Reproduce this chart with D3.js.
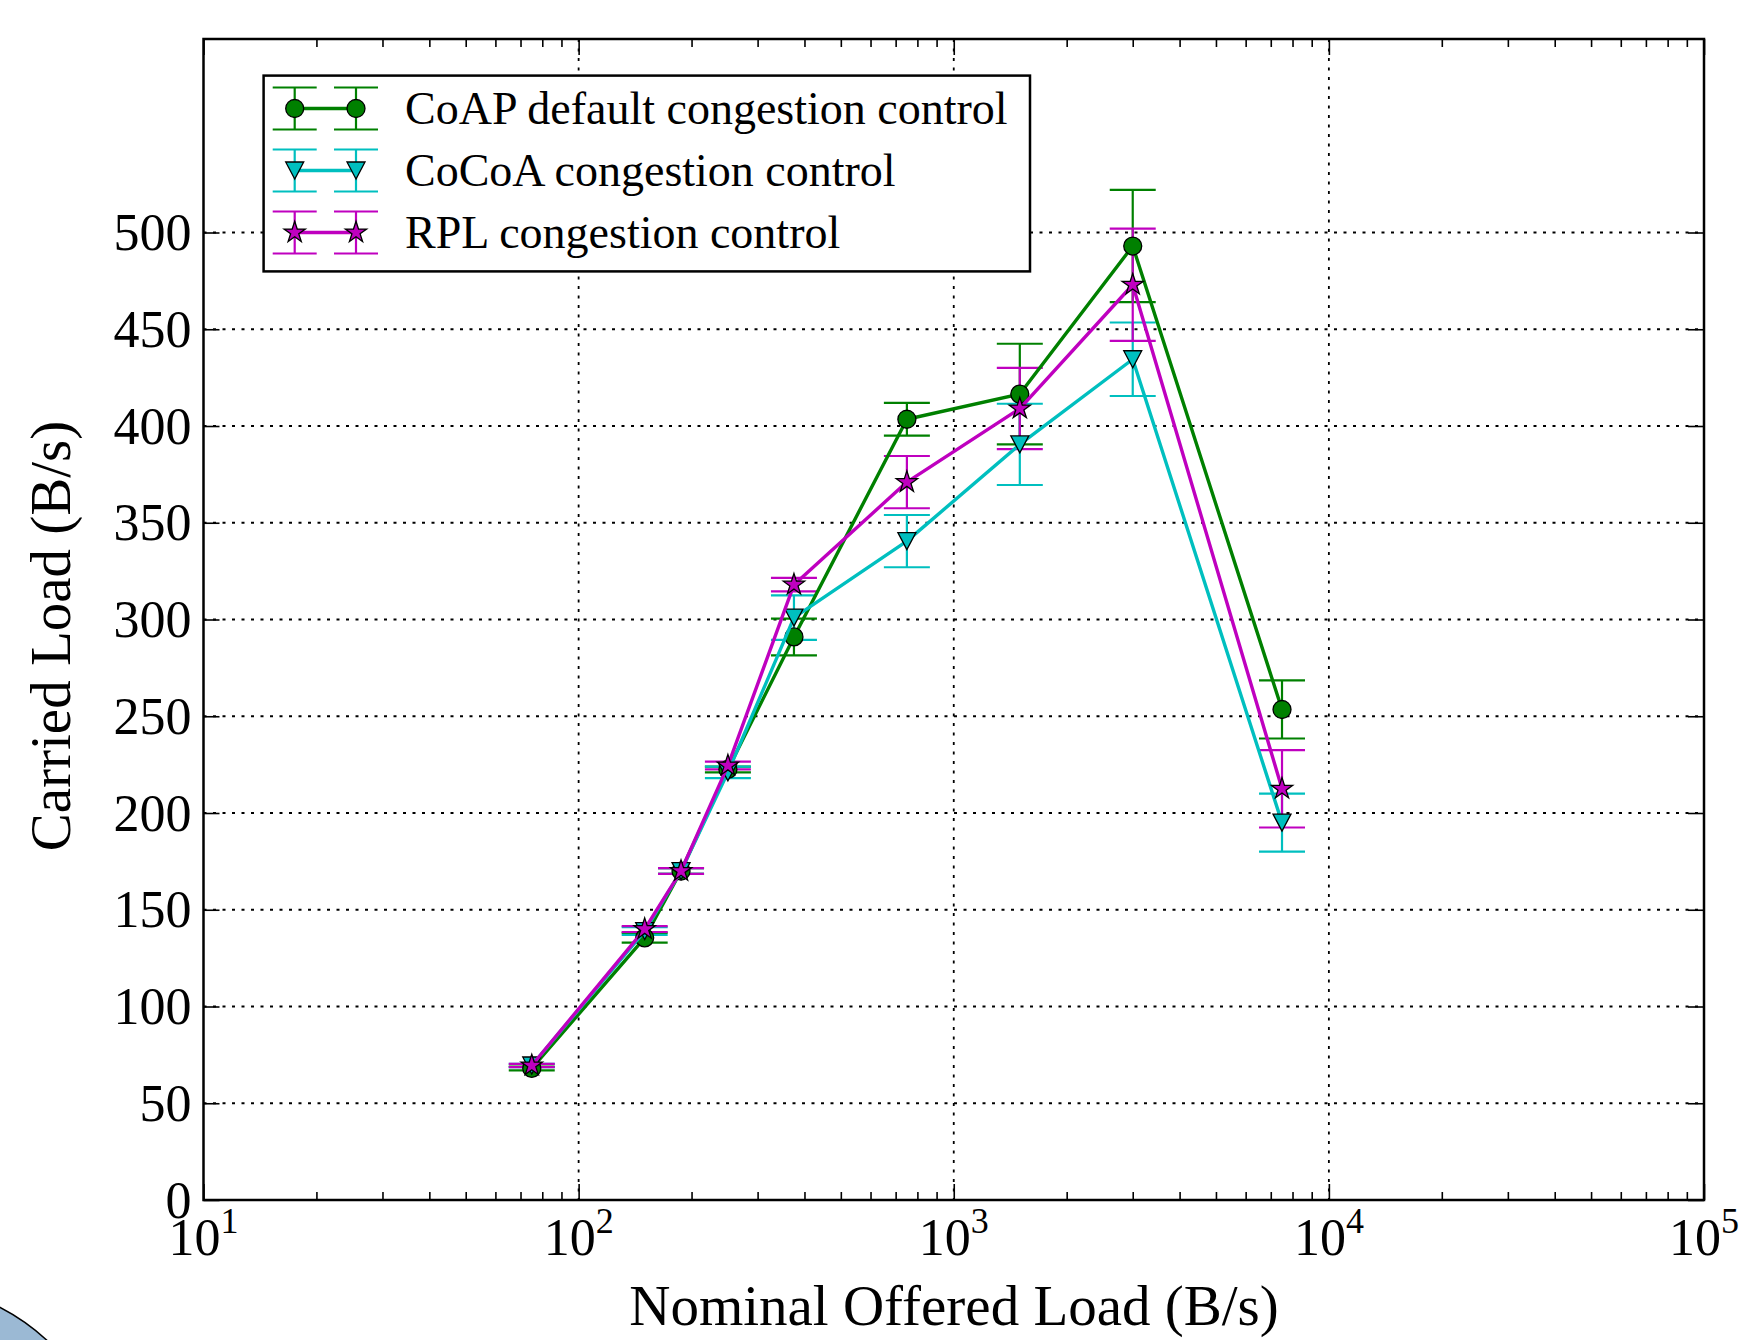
<!DOCTYPE html>
<html><head><meta charset="utf-8">
<script src="https://cdn.jsdelivr.net/npm/d3@7"></script>
<style>body{margin:0;background:#fff} svg{display:block}</style>
</head><body>
<svg id="chart" width="1744" height="1340"></svg>
<script>
// ---- data ----
const xValues = [75, 150, 187.5, 250, 375, 750, 1500, 3000, 7500];
const seriesNames = ["CoAP default congestion control", "CoCoA congestion control", "RPL congestion control"];
const coapLoad  = [68, 135.5, 170, 222.5, 291, 403.5, 416.5, 493, 253.5];
const coapErr   = [1, 2.5, 1.5, 1.5, 9.5, 8.5, 26, 29, 15];
const cocoaLoad = [69.5, 139, 170, 221, 301, 340.5, 390.5, 434.5, 195];
const cocoaErr  = [0.8, 2, 1.5, 3, 11.5, 13.5, 21, 19, 15];
const rplLoad   = [69.5, 140, 170, 224.5, 318, 371, 409, 473, 212.5];
const rplErr    = [0.8, 1.5, 1.5, 2, 3.5, 13.5, 21, 29, 20];
const yTicks = [0, 50, 100, 150, 200, 250, 300, 350, 400, 450, 500];
const xTicks = [10, 100, 1000, 10000, 100000];
const xTickExponents = ["1", "2", "3", "4", "5"];
const xLabel = "Nominal Offered Load (B/s)";
const yLabel = "Carried Load (B/s)";

// ---- styles ----
const colors = ["#008000", "#00bfbf", "#bf00bf"];
const markers = ["circle", "triangle", "star"];
const FONT = "'Liberation Serif', 'DejaVu Serif', serif";

const L = 203.5, R = 1704, T = 39, B = 1200;
const svg = d3.select("#chart").attr("font-family", FONT);

// corner artifact
svg.append("circle").attr("cx", -100).attr("cy", 1500).attr("r", 217)
  .attr("fill", "#9bb9d4").attr("stroke", "#000").attr("stroke-width", 1.5);

const x = d3.scaleLog().domain([10, 100000]).range([L, R]);
const y = d3.scaleLinear().domain([0, 600]).range([B, T]);

// grid
const grid = svg.append("g").attr("stroke", "#000").attr("stroke-width", 1.8).attr("stroke-dasharray", "3,6.5");
grid.selectAll("line.gx").data(xTicks.slice(1, -1)).join("line")
  .attr("x1", d => x(d)).attr("x2", d => x(d)).attr("y1", T).attr("y2", B);
grid.selectAll("line.gy").data(yTicks.slice(1)).join("line")
  .attr("x1", L).attr("x2", R).attr("y1", d => y(d)).attr("y2", d => y(d));

// axes ticks (inward)
const minorX = x.ticks().filter(v => xTicks.indexOf(v) < 0);
function styleAxis(g) { g.select(".domain").remove(); g.selectAll("line").attr("stroke", "#000").attr("stroke-width", 1.6); g.selectAll("text").remove(); }
svg.append("g").attr("transform", `translate(0,${B})`).call(d3.axisBottom(x).tickValues(xTicks).tickSize(-16)).call(styleAxis);
svg.append("g").attr("transform", `translate(0,${B})`).call(d3.axisBottom(x).tickValues(minorX).tickSize(-8)).call(styleAxis);
svg.append("g").attr("transform", `translate(0,${T})`).call(d3.axisTop(x).tickValues(xTicks).tickSize(-16)).call(styleAxis);
svg.append("g").attr("transform", `translate(0,${T})`).call(d3.axisTop(x).tickValues(minorX).tickSize(-8)).call(styleAxis);
svg.append("g").attr("transform", `translate(${L},0)`).call(d3.axisLeft(y).tickValues(yTicks).tickSize(-16)).call(styleAxis);
svg.append("g").attr("transform", `translate(${R},0)`).call(d3.axisRight(y).tickValues(yTicks).tickSize(-16)).call(styleAxis);

// tick labels
svg.append("g").selectAll("text").data(yTicks).join("text")
  .attr("x", L - 12).attr("y", d => y(d)).attr("dy", "0.34em")
  .attr("text-anchor", "end").attr("font-size", 52).text(d => d);
const xl = svg.append("g").selectAll("text").data(xTicks).join("text")
  .attr("x", d => x(d)).attr("y", 1255).attr("text-anchor", "middle").attr("font-size", 52);
xl.append("tspan").text("10");
xl.append("tspan").attr("dy", -22).attr("font-size", 36).text((d, i) => xTickExponents[i]);

// axis labels
svg.append("text").attr("x", 954).attr("y", 1325).attr("text-anchor", "middle").attr("font-size", 57).text(xLabel);
svg.append("text").attr("transform", "translate(70,636) rotate(-90)").attr("text-anchor", "middle").attr("font-size", 57).text(yLabel);

// markers
function starPath(Ro) {
  const ri = Ro * 0.381966; let p = [];
  for (let k = 0; k < 10; k++) { const a = -Math.PI / 2 + k * Math.PI / 5; const r = k % 2 ? ri : Ro; p.push([r * Math.cos(a), r * Math.sin(a)]); }
  return "M" + p.map(q => q[0].toFixed(2) + "," + q[1].toFixed(2)).join("L") + "Z";
}
const CR = 9;
const markerPath = {
  circle: `M${CR},0A${CR},${CR} 0 1,1 ${-CR},0A${CR},${CR} 0 1,1 ${CR},0Z`,
  triangle: "M0,8.5L-9,-8.5L9,-8.5Z",
  star: starPath(11.2)
};

const series = [
  { name: seriesNames[0], vals: coapLoad, errs: coapErr },
  { name: seriesNames[1], vals: cocoaLoad, errs: cocoaErr },
  { name: seriesNames[2], vals: rplLoad, errs: rplErr }
];
const CAP = 23;
const plot = svg.append("g");
// error bars
series.forEach((s, si) => {
  const g = plot.append("g").attr("stroke", colors[si]).attr("stroke-width", 2.2);
  const pts = xValues.map((xv, i) => ({ x: xv, v: s.vals[i], e: s.errs[i] }));
  g.selectAll("line.v").data(pts).join("line")
    .attr("x1", d => x(d.x)).attr("x2", d => x(d.x)).attr("y1", d => y(d.v - d.e)).attr("y2", d => y(d.v + d.e));
  g.selectAll("line.c1").data(pts).join("line").attr("class", "c1")
    .attr("x1", d => x(d.x) - CAP).attr("x2", d => x(d.x) + CAP).attr("y1", d => y(d.v + d.e)).attr("y2", d => y(d.v + d.e));
  g.selectAll("line.c2").data(pts).join("line").attr("class", "c2")
    .attr("x1", d => x(d.x) - CAP).attr("x2", d => x(d.x) + CAP).attr("y1", d => y(d.v - d.e)).attr("y2", d => y(d.v - d.e));
});
// lines and markers
series.forEach((s, si) => {
  const pts = xValues.map((xv, i) => ({ x: xv, v: s.vals[i] }));
  plot.append("path").datum(pts).attr("fill", "none").attr("stroke", colors[si]).attr("stroke-width", 3.4)
    .attr("stroke-linejoin", "round")
    .attr("d", d3.line().x(d => x(d.x)).y(d => y(d.v)));
  plot.append("g").selectAll("path").data(pts).join("path")
    .attr("transform", d => `translate(${x(d.x)},${y(d.v)})`)
    .attr("d", markerPath[markers[si]]).attr("fill", colors[si]).attr("stroke", "#000").attr("stroke-width", 1.3);
});

// frame
svg.append("rect").attr("x", L).attr("y", T).attr("width", R - L).attr("height", B - T)
  .attr("fill", "none").attr("stroke", "#000").attr("stroke-width", 2.5);

// legend
const lg = svg.append("g");
lg.append("rect").attr("x", 263.6).attr("y", 75.6).attr("width", 766.4).attr("height", 195.8)
  .attr("fill", "#fff").attr("stroke", "#000").attr("stroke-width", 2.5);
const rowY = [108.5, 170.5, 232.5];
const mx = [294.7, 356];
series.forEach((s, si) => {
  const ry = rowY[si];
  const g = lg.append("g");
  mx.forEach(px => {
    g.append("line").attr("x1", px).attr("x2", px).attr("y1", ry - 21).attr("y2", ry + 21).attr("stroke", colors[si]).attr("stroke-width", 2.2);
    g.append("line").attr("x1", px - 22).attr("x2", px + 22).attr("y1", ry - 21).attr("y2", ry - 21).attr("stroke", colors[si]).attr("stroke-width", 2.2);
    g.append("line").attr("x1", px - 22).attr("x2", px + 22).attr("y1", ry + 21).attr("y2", ry + 21).attr("stroke", colors[si]).attr("stroke-width", 2.2);
  });
  g.append("line").attr("x1", mx[0]).attr("x2", mx[1]).attr("y1", ry).attr("y2", ry).attr("stroke", colors[si]).attr("stroke-width", 3.4);
  mx.forEach(px => {
    g.append("path").attr("transform", `translate(${px},${ry})`).attr("d", markerPath[markers[si]])
      .attr("fill", colors[si]).attr("stroke", "#000").attr("stroke-width", 1.3);
  });
  g.append("text").attr("x", 405).attr("y", ry).attr("dy", "0.33em").attr("font-size", 46).text(s.name);
});
</script>
</body></html>
